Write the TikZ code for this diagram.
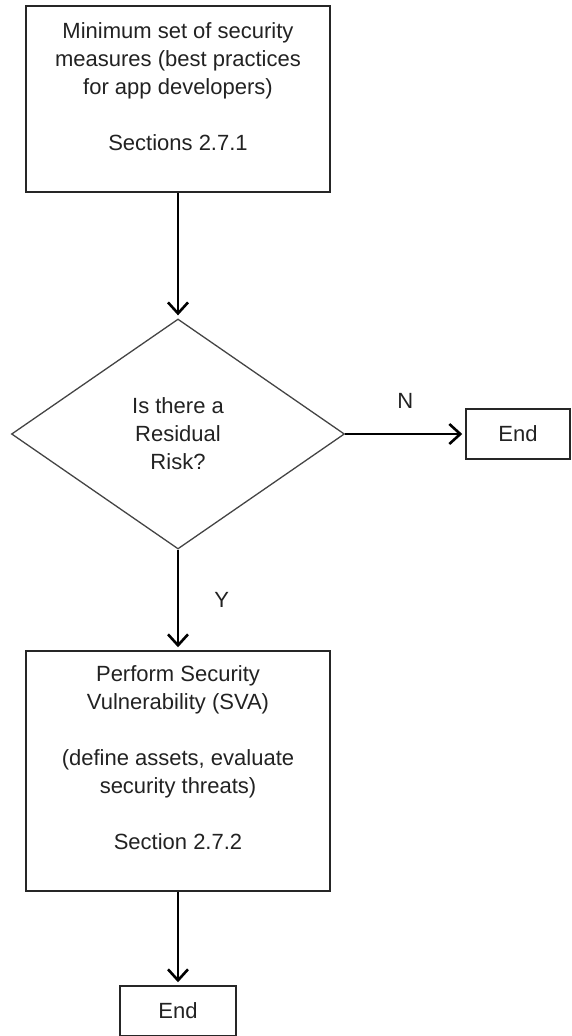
\documentclass[tikz,border=0pt]{standalone}
\usepackage{fontspec}
\setmainfont{Liberation Sans}
\usepackage{xcolor}
\usepackage{tikz}
\usetikzlibrary{positioning}
\usetikzlibrary{arrows.meta}
\usetikzlibrary{shapes.geometric}
\definecolor{darkgrey}{HTML}{444444}
\definecolor{textgrey}{HTML}{222222}
\tikzset {
  x=1pt, y=1pt,
  >={Straight Barb[length=11pt, width=20pt]},
  % plain text inside the shapes
  txt/.style = {text=textgrey, align=center, inner sep=0pt, font=\fontsize{22}{28}\selectfont},
  % rectangular step boxes
  stepbox/.style = {draw=black!85, line width=1.5pt, minimum width=304pt, inner sep=0pt},
  % the question
  decision/.style = {txt, diamond, draw=darkgrey, line width=1.3pt, minimum width=333pt, minimum height=230pt},
  % end boxes
  endbox/.style = {txt, draw=black!85, line width=1.5pt, minimum height=50pt},
  % connectors
  flow/.style = {->, black, line width=2.6pt, shorten >=3pt},
}
\begin{document}
\begin{tikzpicture}
        \useasboundingbox (0,0) rectangle (572,-1036);

        \node[stepbox, minimum height=186pt] (measures) at (178, -99) {};
        \node[txt] (measurestext) at ([yshift=12]measures.center)
          {Minimum set of security\\measures (best practices\\for app developers)\\[28pt]Sections 2.7.1};

        \node[decision] (risk) at (178, -434) {Is there a\\Residual\\Risk?};
        \node[endbox, minimum width=104pt] (end1) at (518, -434) {End};

        \node[stepbox, minimum height=240pt] (sva) at (178, -771) {};
        \node[txt] (svatext) at ([yshift=13]sva.center)
          {Perform Security\\Vulnerability (SVA)\\[28pt](define assets, evaluate\\security threats)\\[28pt]Section 2.7.2};

        \node[endbox, minimum width=116pt] (end2) at (178, -1011) {End};

        \draw [flow] (measures) -- (risk);
        \draw [flow] (risk) -- (end1) node[txt, midway, above=24pt] (nlab) {N};
        \draw [flow] (risk) -- (sva) node[txt, midway, right=35pt] (ylab) {Y};
        \draw [flow] (sva) -- (end2);
      \end{tikzpicture}
\end{document}
